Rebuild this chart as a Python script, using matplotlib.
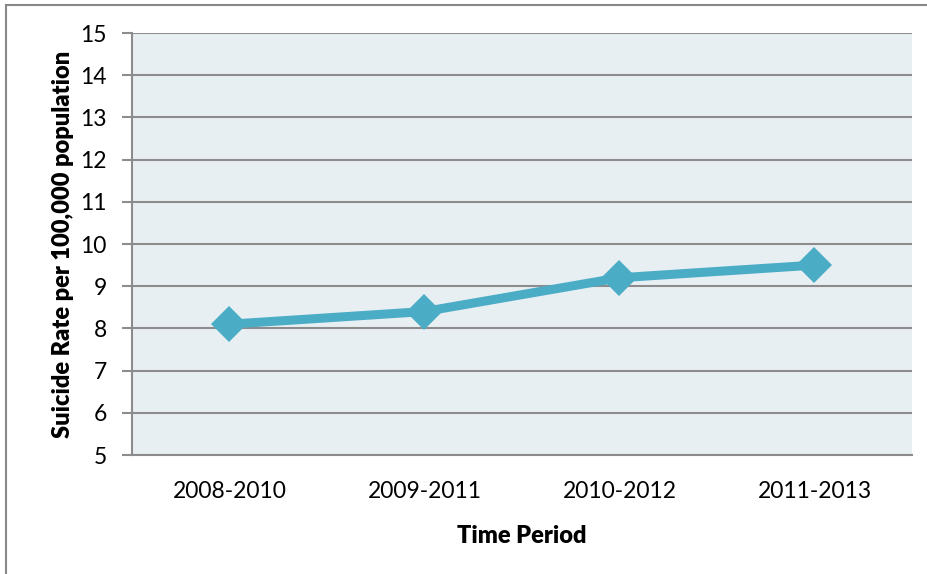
import matplotlib
matplotlib.use("Agg")
import matplotlib.pyplot as plt
from matplotlib.patches import Rectangle

periods = ["2008-2010", "2009-2011", "2010-2012", "2011-2013"]
rates = [8.1, 8.4, 9.2, 9.5]
y_ticks = list(range(5, 16))

plt.rcParams["font.family"] = ["Lato", "DejaVu Sans"]

fig = plt.figure(figsize=(9.28, 5.74), dpi=100)
ax = fig.add_axes([0.1422, 0.2073, 0.8405, 0.7352])

grid_color = "#8c8c8c"
ax.set_facecolor("#e8eff3")
ax.plot(range(len(periods)), rates, color="#4bacc6", linewidth=6.5,
        marker="D", markersize=18, markeredgewidth=0, zorder=3)

ax.set_xlim(-0.5, len(periods) - 0.5)
ax.set_ylim(5, 15)
ax.set_yticks(y_ticks)
ax.set_xticks(range(len(periods)))
ax.set_xticklabels(periods)
ax.yaxis.grid(True, color=grid_color, linewidth=1.5)
ax.set_axisbelow(True)

for side in ["top", "right"]:
    ax.spines[side].set_visible(False)
for side in ["left", "bottom"]:
    ax.spines[side].set_color(grid_color)
    ax.spines[side].set_linewidth(1.5)

ax.tick_params(axis="y", length=7, width=1.5, color=grid_color,
               labelsize=16.5, pad=11)
ax.tick_params(axis="x", length=0, labelsize=16.5, pad=19)

ax.set_ylabel("Suicide Rate per 100,000 population", fontsize=17,
              fontweight="heavy", labelpad=5)
ax.set_xlabel("Time Period", fontsize=17, fontweight="heavy", labelpad=16)

# chart frame
fig.patches.append(Rectangle((6 / 928, -0.1), 1.2, 1.1 - 4.5 / 574,
                             transform=fig.transFigure, fill=False,
                             edgecolor="#888888", linewidth=1.5))

fig.savefig("out.png", dpi=100)
